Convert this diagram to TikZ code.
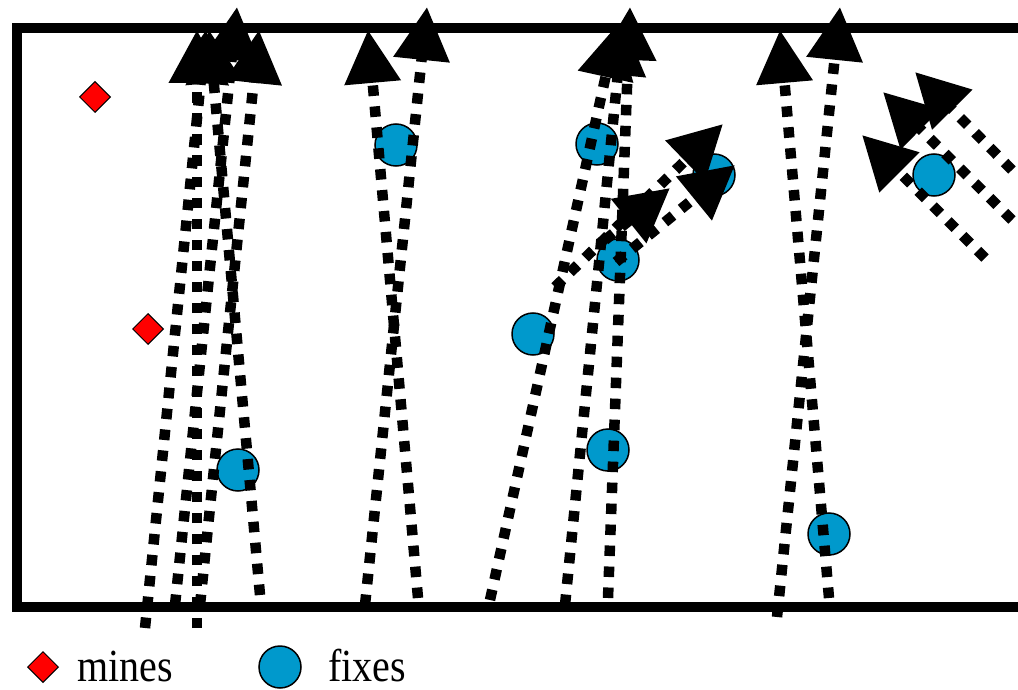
\documentclass[tikz,border=0pt]{standalone}
\usepackage{fontspec}
\setmainfont{Liberation Serif}
\usetikzlibrary{arrows.meta,shapes.geometric}
\definecolor{fixblue}{RGB}{0,153,204}
\begin{document}
\begin{tikzpicture}[x=1pt,y=-1pt,
  dotline/.style={line width=10.5pt, dash pattern=on 10.5pt off 10.5pt, -{Triangle[length=53pt,width=54pt]}},
  fix/.style={circle, draw=black, line width=1.5pt, fill=fixblue, minimum size=42pt, inner sep=0pt},
  mine/.style={diamond, draw=black, line width=1pt, fill=red, minimum size=31pt, inner sep=0pt},
  lbl/.style={font=\fontsize{40}{40}\selectfont, anchor=base west, inner sep=0pt},
  frame/.style={line width=10pt}]
\path[use as bounding box] (0,0) rectangle (1018,690);
\clip (0,0) rectangle (1018,690);
% frame
\draw[frame] (1040,28) -- (17,28) -- (17,607) -- (1040,607);
% fixes
\node[fix] (f1) at (238,470) {};
\node[fix] (f2) at (396,145) {};
\node[fix] (f3) at (597,144) {};
\node[fix] (f4) at (618,260) {};
\node[fix] (f5) at (533,334) {};
\node[fix] (f6) at (608,450) {};
\node[fix] (f7) at (714,175) {};
\node[fix] (f8) at (934,175) {};
\node[fix] (f9) at (829,534) {};
% mines
\node[mine] (m1) at (95,97) {};
\node[mine] (m2) at (148,329) {};
% endpoints
\coordinate (a0) at (145,628); \coordinate (a1) at (206,30);
\coordinate (b0) at (175,605); \coordinate (b1) at (237,7);
\coordinate (c0) at (197,628); \coordinate (c1) at (197,30);
\coordinate (d0) at (200,605); \coordinate (d1) at (259,30);
\coordinate (e0) at (260,595); \coordinate (e1) at (209,30);
\coordinate (g0) at (365,605); \coordinate (g1) at (427,7);
\coordinate (h0) at (418,598); \coordinate (h1) at (368,30);
\coordinate (l10) at (490,600); \coordinate (l11) at (617,25);
\coordinate (l20) at (565,605); \coordinate (l21) at (623,22);
\coordinate (l30) at (608,598); \coordinate (l31) at (630,7);
\coordinate (p0) at (555,287); \coordinate (p1) at (723,124);
\coordinate (q0) at (616,262); \coordinate (q1) at (735,165);
\coordinate (s0) at (605,240); \coordinate (s1) at (670,188);
\coordinate (u0) at (829,598); \coordinate (u1) at (780,30);
\coordinate (v0) at (777,617); \coordinate (v1) at (840,7);
\coordinate (r10) at (1012,170); \coordinate (r11) at (915,72);
\coordinate (r20) at (1012,220); \coordinate (r21) at (883,92);
\coordinate (r30) at (985,258); \coordinate (r31) at (862,135);
% trajectories
\foreach \n in {a,b,c,d,e,g,h,l1,l2,l3,p,q,s,u,v,r1,r2,r3}
  \draw[dotline] (\n0) -- (\n1);
% legend
\node[mine] (lm) at (43,667) {};
\node[lbl] (lmt) at (77,681) {\scalebox{1}[1.15]{mines}};
\node[fix] (lf) at (280,667) {};
\node[lbl] (lft) at (328,681) {\scalebox{1}[1.15]{fixes}};
\end{tikzpicture}
\end{document}
